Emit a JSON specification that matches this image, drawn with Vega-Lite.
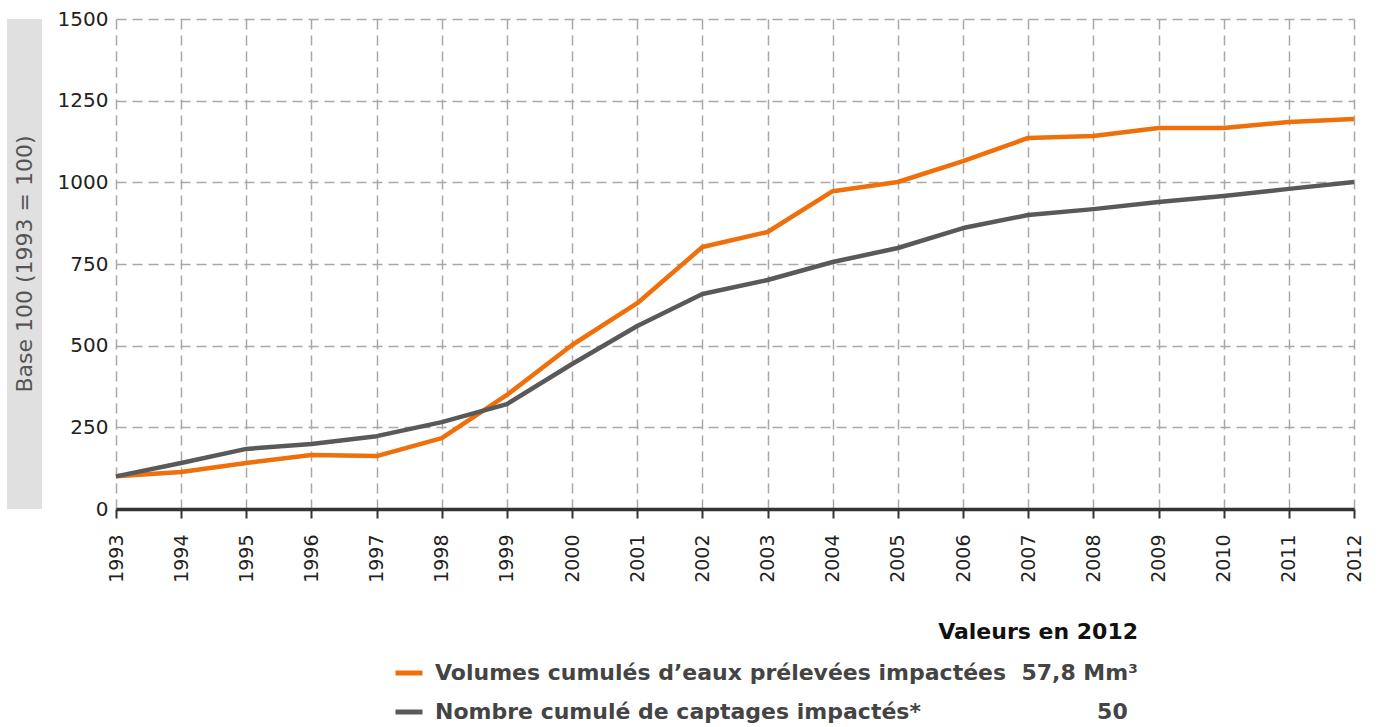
{
  "$schema": "https://vega.github.io/schema/vega-lite/v6.json",
  "background": "white",
  "padding": {"left": 7, "top": 9, "right": 5, "bottom": 5},
  "config": {
    "font": "DejaVu Sans",
    "view": {"stroke": null},
    "concat": {"spacing": 74}
  },
  "bounds": "flush",
  "hconcat": [
    {
      "width": 35,
      "height": 490,
      "view": {"fill": "#e0e0e0", "stroke": null},
      "data": {"values": [{"t": "Base 100 (1993 = 100)"}]},
      "mark": {"type": "text", "angle": 270, "fontSize": 22, "color": "#555555", "font": "DejaVu Sans", "baseline": "middle", "align": "center"},
      "encoding": {"text": {"field": "t", "type": "nominal"}}
    },
    {
      "width": 1238,
      "height": 490,
      "data": {
        "values": [
          {"year": "1993", "serie": "Volumes cumulés d’eaux prélevées impactées", "value": 100},
          {"year": "1994", "serie": "Volumes cumulés d’eaux prélevées impactées", "value": 113},
          {"year": "1995", "serie": "Volumes cumulés d’eaux prélevées impactées", "value": 141},
          {"year": "1996", "serie": "Volumes cumulés d’eaux prélevées impactées", "value": 165},
          {"year": "1997", "serie": "Volumes cumulés d’eaux prélevées impactées", "value": 162},
          {"year": "1998", "serie": "Volumes cumulés d’eaux prélevées impactées", "value": 217},
          {"year": "1999", "serie": "Volumes cumulés d’eaux prélevées impactées", "value": 349},
          {"year": "2000", "serie": "Volumes cumulés d’eaux prélevées impactées", "value": 502},
          {"year": "2001", "serie": "Volumes cumulés d’eaux prélevées impactées", "value": 630},
          {"year": "2002", "serie": "Volumes cumulés d’eaux prélevées impactées", "value": 802},
          {"year": "2003", "serie": "Volumes cumulés d’eaux prélevées impactées", "value": 848},
          {"year": "2004", "serie": "Volumes cumulés d’eaux prélevées impactées", "value": 973},
          {"year": "2005", "serie": "Volumes cumulés d’eaux prélevées impactées", "value": 1001},
          {"year": "2006", "serie": "Volumes cumulés d’eaux prélevées impactées", "value": 1065},
          {"year": "2007", "serie": "Volumes cumulés d’eaux prélevées impactées", "value": 1136},
          {"year": "2008", "serie": "Volumes cumulés d’eaux prélevées impactées", "value": 1142},
          {"year": "2009", "serie": "Volumes cumulés d’eaux prélevées impactées", "value": 1166},
          {"year": "2010", "serie": "Volumes cumulés d’eaux prélevées impactées", "value": 1166},
          {"year": "2011", "serie": "Volumes cumulés d’eaux prélevées impactées", "value": 1185},
          {"year": "2012", "serie": "Volumes cumulés d’eaux prélevées impactées", "value": 1194},
          {"year": "1993", "serie": "Nombre cumulé de captages impactés*", "value": 100},
          {"year": "1994", "serie": "Nombre cumulé de captages impactés*", "value": 141},
          {"year": "1995", "serie": "Nombre cumulé de captages impactés*", "value": 184},
          {"year": "1996", "serie": "Nombre cumulé de captages impactés*", "value": 199},
          {"year": "1997", "serie": "Nombre cumulé de captages impactés*", "value": 223},
          {"year": "1998", "serie": "Nombre cumulé de captages impactés*", "value": 266},
          {"year": "1999", "serie": "Nombre cumulé de captages impactés*", "value": 321},
          {"year": "2000", "serie": "Nombre cumulé de captages impactés*", "value": 444},
          {"year": "2001", "serie": "Nombre cumulé de captages impactés*", "value": 560},
          {"year": "2002", "serie": "Nombre cumulé de captages impactés*", "value": 658},
          {"year": "2003", "serie": "Nombre cumulé de captages impactés*", "value": 701},
          {"year": "2004", "serie": "Nombre cumulé de captages impactés*", "value": 756},
          {"year": "2005", "serie": "Nombre cumulé de captages impactés*", "value": 799},
          {"year": "2006", "serie": "Nombre cumulé de captages impactés*", "value": 860},
          {"year": "2007", "serie": "Nombre cumulé de captages impactés*", "value": 900},
          {"year": "2008", "serie": "Nombre cumulé de captages impactés*", "value": 918},
          {"year": "2009", "serie": "Nombre cumulé de captages impactés*", "value": 940},
          {"year": "2010", "serie": "Nombre cumulé de captages impactés*", "value": 958},
          {"year": "2011", "serie": "Nombre cumulé de captages impactés*", "value": 980},
          {"year": "2012", "serie": "Nombre cumulé de captages impactés*", "value": 1001}
        ]
      },
      "mark": {"type": "line", "strokeWidth": 4.5, "strokeJoin": "round"},
      "encoding": {
        "x": {
          "field": "year",
          "type": "ordinal",
          "scale": {"type": "point", "padding": 0},
          "axis": {
            "title": null,
            "labelAngle": -90,
            "labelFontSize": 19,
            "labelColor": "#222222",
            "labelPadding": 16,
            "domainColor": "#333333",
            "domainWidth": 3.5,
            "tickColor": "#333333",
            "tickWidth": 2,
            "tickSize": 9,
            "grid": true,
            "gridColor": "#a8a8a8",
            "gridWidth": 1.5,
            "gridDash": [10, 6]
          }
        },
        "y": {
          "field": "value",
          "type": "quantitative",
          "scale": {"domain": [0, 1500], "nice": false},
          "axis": {
            "title": null,
            "format": "d",
            "values": [0, 250, 500, 750, 1000, 1250, 1500],
            "labelFontSize": 20,
            "labelColor": "#222222",
            "labelPadding": 8,
            "domain": false,
            "ticks": false,
            "grid": true,
            "gridColor": "#a8a8a8",
            "gridWidth": 1.5,
            "gridDash": [10, 6]
          }
        },
        "color": {
          "field": "serie",
          "type": "nominal",
          "scale": {
            "domain": ["Volumes cumulés d’eaux prélevées impactées", "Nombre cumulé de captages impactés*"],
            "range": ["#ef700a", "#595959"]
          },
          "legend": {
            "orient": "none",
            "legendX": 386,
            "legendY": 603,
            "title": "Valeurs en 2012",
            "titleAnchor": "end",
            "titleFontSize": 22,
            "titleFontWeight": "bold",
            "titleColor": "#111111",
            "titleLimit": 600,
            "titlePadding": 13,
            "symbolType": "stroke",
            "symbolStrokeWidth": 5,
            "symbolSize": 729,
            "labelOffset": 10,
            "labelFontSize": 22,
            "labelFontWeight": "bold",
            "labelColor": "#444444",
            "labelLimit": 1000,
            "rowPadding": 12,
            "labelExpr": "datum.index == 0 ? datum.label + '\u00a0\u00a057,8 Mm³' : datum.label + '\u00a0\u00a0\u00a0\u00a0\u00a0\u00a0\u00a0\u00a0\u00a0\u00a0\u00a0\u00a0\u00a0\u00a0\u00a0\u00a0\u00a0\u00a0\u00a0\u00a0\u00a0\u00a0\u00a050'"
          }
        }
      }
    }
  ]
}
